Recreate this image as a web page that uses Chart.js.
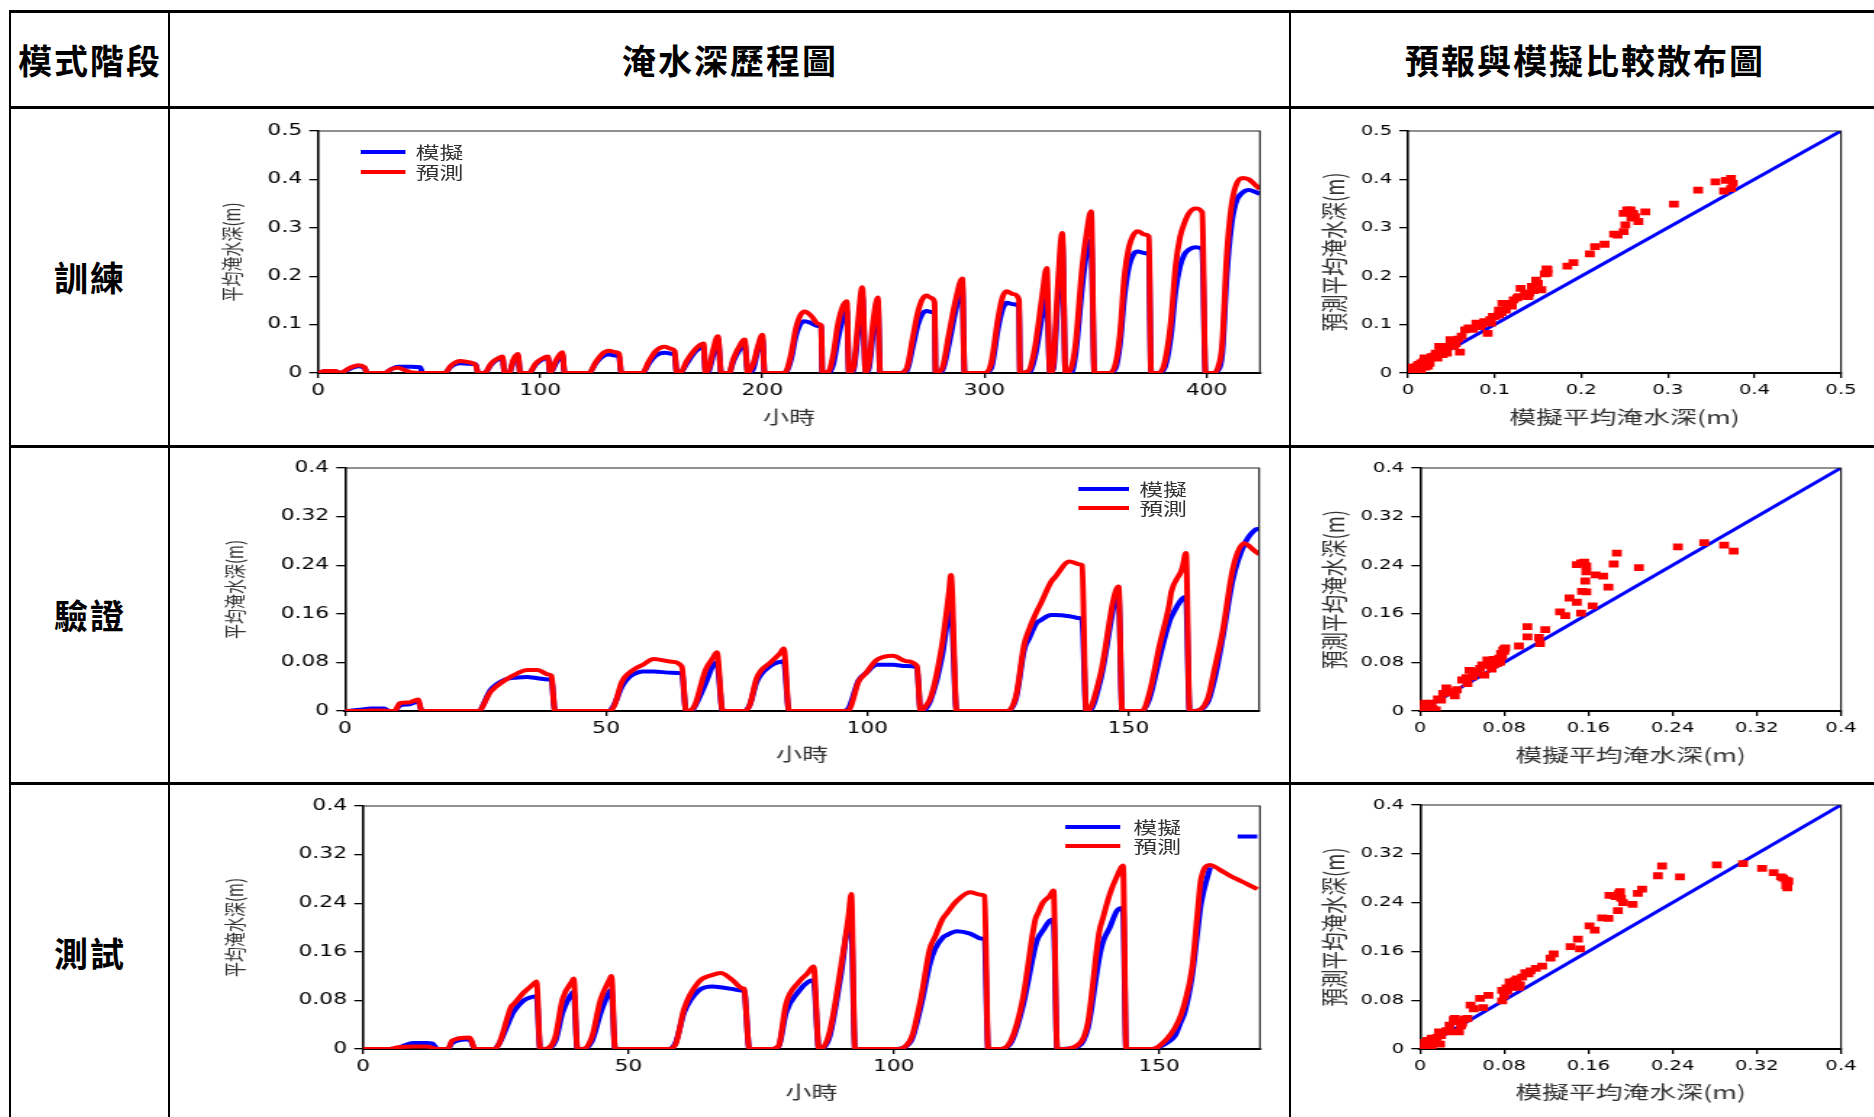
<!DOCTYPE html>
<html><head><meta charset="utf-8">
<script src="https://cdn.jsdelivr.net/npm/chart.js@4.4.1/dist/chart.umd.min.js"></script>
<style>
html,body{margin:0;padding:0;background:#fff;}
body{width:1874px;height:1117px;position:relative;overflow:hidden;font-family:"Noto Sans CJK TC",sans-serif;}
.ln{position:absolute;background:#000;}
.hd{position:absolute;font-weight:700;font-size:34px;letter-spacing:2px;color:#000;transform:translate(-50%,-50%);white-space:nowrap;line-height:1;}
.wrap{position:absolute;transform:scaleX(1.45);transform-origin:0 0;}
.wrap canvas{position:absolute;left:0;top:0;}
.lgl{position:absolute;height:4px;}
.lgt{position:absolute;font-size:16.5px;line-height:20px;height:20px;color:#333;white-space:nowrap;}
</style></head>
<body>
<div class="ln" style="left:9px;top:10px;width:1865px;height:3px"></div>
<div class="ln" style="left:9px;top:105.5px;width:1865px;height:3px"></div>
<div class="ln" style="left:9px;top:444.5px;width:1865px;height:3px"></div>
<div class="ln" style="left:9px;top:782px;width:1865px;height:3px"></div>
<div class="ln" style="left:9px;top:10px;width:2px;height:1107px"></div>
<div class="ln" style="left:168px;top:10px;width:2px;height:1107px"></div>
<div class="ln" style="left:1289px;top:10px;width:2px;height:1107px"></div>

<div class="hd" style="left:90px;top:60px">模式階段</div>
<div class="hd" style="left:730px;top:60px">淹水深歷程圖</div>
<div class="hd" style="left:1585px;top:60px">預報與模擬比較散布圖</div>
<div class="hd" style="left:90px;top:277px">訓練</div>
<div class="hd" style="left:90px;top:615px">驗證</div>
<div class="hd" style="left:90px;top:953px">測試</div>

<script>
// ---------------- data ----------------
const seriesNames = ['模擬', '預測'];

const trainHours = [
 0,3,8,10,14,18,21,22,30,33,
 36,39,42,46,47,57,60,64,68,71,
 72,75,78,81,83,84,86,88,90,91,
 95,98,101,103.5,104.5,107,110,111,122,125,
 128,131,134,135.5,136.5,146,149,152,156,159,
 160.5,161.5,163,166,170,173.5,174.5,176,178,180,
 181.5,185,187,190,192,193.5,196,198,200,201,
 209,211,213,215,217,219,222,225,226.5,227,
 230,232,234,236,238,239,241,243,245,246.5,
 248,250,252,253,262,265,268,270,272,274,
 276,277.5,278,281,284,287,290,291,300,303,
 306,308,310,313,315.5,316,320,323,326,328,
 329.5,331,333,335,336.5,339,341,344,346,348,
 349.5,356,359,361,363,365,367,369,372,374,
 375,378,381,384,386,388,390,392,395,398,
 399.5,403,405,407,409,411,413,416,419,422,
 424];
const trainSim = [
 0,.003,.003,0,.008,.014,.01,0,0,.008,
 .013,.013,.013,.012,0,0,.014,.02,.019,.018,
 0,0,.018,.028,.03,0,0,.025,.035,0,
 0,.018,.028,.031,0,.02,.038,0,0,.02,
 .034,.038,.036,.034,0,0,.02,.036,.042,.04,
 .038,0,0,.02,.045,.055,0,.005,.04,.07,
 0,0,.025,.05,.062,0,.01,.05,.072,0,
 0,.004,.03,.075,.1,.107,.103,.097,.095,0,
 0,.02,.07,.11,.13,0,.005,.08,.16,0,
 .01,.09,.14,0,0,.005,.06,.1,.122,.128,
 .126,.124,0,.005,.06,.13,.18,0,0,.01,
 .09,.13,.145,.142,.137,0,0,.04,.12,.16,
 0,.01,.15,.27,0,0,.04,.18,.25,.275,
 0,0,.01,.06,.16,.22,.245,.251,.248,.244,
 0,0,.01,.08,.17,.22,.245,.255,.26,.256,
 0,0,.005,.04,.2,.3,.35,.372,.378,.374,
 .37];
const trainPred = [
 0,.004,.004,0,.01,.016,.012,0,0,.008,
 .011,.006,.001,0,0,0,.016,.025,.022,.016,
 0,0,.02,.03,.034,0,0,.028,.039,0,
 0,.02,.03,.034,0,.025,.043,0,0,.022,
 .04,.046,.043,.04,0,0,.025,.045,.054,.05,
 .045,0,0,.025,.05,.061,0,.01,.05,.076,
 0,0,.03,.058,.069,0,.02,.055,.079,0,
 0,.006,.04,.09,.118,.127,.118,.102,.098,0,
 .004,.04,.1,.135,.148,0,.01,.1,.177,0,
 .02,.11,.156,0,0,.01,.08,.125,.152,.16,
 .155,.146,0,.01,.08,.15,.195,0,0,.02,
 .11,.155,.169,.163,.152,0,.005,.06,.16,.217,
 0,.02,.18,.289,0,.01,.06,.22,.29,.334,
 0,0,.02,.08,.2,.26,.285,.293,.286,.282,
 0,0,.02,.11,.22,.28,.31,.33,.34,.332,
 0,0,.01,.06,.24,.34,.385,.403,.4,.388,
 .38];

const validHours = [0,3,5,7.5,8.5,9.5,10.5,12.3,14,14.7,25.5,27.9,30.7,33,34.8,36.9,38.9,39.5,40.2,50.5,51.5,53,54.3,55.6,57,59.1,62.5,64.5,65.3,66.3,67,69,70.5,71.2,72.3,76.4,77.5,78.8,81.6,83.3,84,85,95.5,96.5,98.3,99.7,101.8,104.9,107.4,109.5,110.2,111,112.2,114.3,115.7,116,117.1,126.8,128.5,130,131,132.4,133.1,135.2,135.9,138.7,140.8,141.1,141.9,142.5,144.6,148.1,148.8,152.6,154,156,157.8,158.2,160.3,161,161.7,162.4,165.2,166.5,168,170,172.1,174.2,175];
const validSim = [0,0.002,0.004,0.004,0,0,0.009,0.011,0.016,0,0,0.035,0.052,0.055,0.056,0.054,0.052,0.052,0,0,0.01,0.04,0.055,0.062,0.065,0.065,0.063,0.062,0,0,0.008,0.045,0.076,0.08,0,0,0.01,0.048,0.075,0.081,0.082,0,0,0.006,0.05,0.062,0.076,0.076,0.074,0.072,0,0.002,0.02,0.09,0.166,0.17,0,0,0.022,0.1,0.12,0.145,0.149,0.158,0.158,0.156,0.1525,0.152,0,0,0.05,0.19,0,0,0.02,0.09,0.147,0.155,0.185,0.188,0,0,0.015,0.054,0.12,0.218,0.273,0.298,0.3];
const validPred = [0,0,0.001,0.001,0,0,0.013,0.014,0.019,0,0,0.032,0.051,0.062,0.0675,0.0675,0.06,0.058,0,0,0.008,0.048,0.062,0.07,0.076,0.0856,0.081,0.073,0,0.002,0.01,0.067,0.088,0.0966,0,0,0.01,0.054,0.081,0.095,0.103,0,0,0.002,0.048,0.062,0.084,0.091,0.082,0.074,0,0.006,0.024,0.109,0.2,0.224,0,0,0.026,0.109,0.135,0.163,0.175,0.213,0.22,0.246,0.241,0.24,0,0.002,0.059,0.205,0,0,0.029,0.11,0.175,0.196,0.235,0.26,0,0,0.021,0.07,0.13,0.235,0.276,0.263,0.258];

const testHours = [0,5,6.7,9.4,12,13.1,14,16,16.8,20.1,21.1,24.6,25.6,28,28.3,30.3,32,32.7,33.4,34.3,36.2,37.6,39.5,39.7,40.4,41.4,43.1,44.8,46.5,46.8,47.5,57.5,58.9,60.5,63.2,65.9,67.4,69.4,71.5,71.8,72.8,77,78.3,79.7,82.1,83.8,84.9,85.9,86.2,87.9,90,91.5,92,92.7,100.3,103.2,105.1,106.8,107.8,109.2,109.9,111.9,114.4,116.4,117.1,117.8,120.2,122.2,124.3,126.7,127.1,128.1,129.4,130.1,130.8,131.5,134.9,136.6,138.7,139.4,140.7,142.1,143.2,143.8,148.7,151.4,153,154.1,154.8,156.2,157.2,157.9,159.6,160.5,162,163.4,164.8,166.5,168.5];
const testSim = [0,0,0.002,0.01,0.01,0.009,0,0,0.01,0.016,0,0,0.008,0.055,0.06,0.08,0.086,0.087,0,0,0.012,0.06,0.093,0.094,0,0,0.012,0.06,0.095,0.097,0,0,0.01,0.06,0.096,0.103,0.1015,0.099,0.096,0.096,0,0,0.004,0.06,0.095,0.11,0.113,0,0,0.02,0.12,0.2,0.2,0,0,0.012,0.07,0.14,0.165,0.183,0.187,0.194,0.19,0.182,0.18,0,0,0.012,0.07,0.17,0.181,0.195,0.211,0.213,0,0,0.005,0.035,0.15,0.176,0.2,0.228,0.232,0,0,0.01,0.022,0.045,0.06,0.12,0.192,0.24,0.299,null,null,null,0.35,0.35,0.35];
const testPred = [0,0,0.003,0.004,0.004,0.002,0,0,0.014,0.019,0,0,0.008,0.071,0.073,0.093,0.106,0.111,0,0,0.019,0.082,0.113,0.116,0,0,0.019,0.082,0.115,0.12,0,0,0.008,0.066,0.11,0.122,0.125,0.115,0.1,0.099,0,0,0.005,0.074,0.11,0.125,0.136,0,0,0.027,0.132,0.22,0.255,0,0,0.016,0.082,0.165,0.185,0.214,0.222,0.244,0.258,0.254,0.252,0,0,0.016,0.082,0.214,0.222,0.241,0.252,0.261,0,0,0.008,0.044,0.192,0.215,0.255,0.285,0.302,0,0,0.016,0.035,0.055,0.075,0.132,0.22,0.28,0.303,0.3,0.292,0.285,0.279,0.272,0.263];

// scatter: simulated (x) vs predicted (y)
const trainScSim = [0.355,0.367,0.373,0.375,0.373,0.365,0.335,0.307,0.274,0.266,0.262,0.257,0.253,0.249,0.251,0.249,0.242,0.238,0.227,0.216,0.21,0.191,0.184,0.161,0.161,0.148,0.154,0.143,0.13,0.135,0.126,0.118,0.109,0.105,0.101,0.096,0.088,0.079,0.092,0.066,0.062,0.06,0.049,0.045,0.036,0.045,0.032,0.027,0.023,0.019,0.015,0.01,0.006,0.002,0,0.012,0.015,0.023,0.034,0.04,0.053,0.07,0.083,0.105,0.113,0.122,0.139,0.15,0.128,0.098,
 0.005,0.008,0.018,0.025,0.03,0.038,0.043,0.05,0.055,0.058,0.02,0.012,0.04,0.075,0.085,0.095,0.108,0.115,0.12,0.14,0.145,0.158,0.16,0.26,0.258];
const trainScPred = [0.395,0.398,0.402,0.392,0.381,0.376,0.378,0.349,0.333,0.313,0.323,0.337,0.337,0.33,0.306,0.292,0.285,0.287,0.266,0.261,0.246,0.228,0.221,0.214,0.206,0.192,0.172,0.179,0.175,0.165,0.155,0.144,0.144,0.13,0.117,0.103,0.106,0.103,0.082,0.089,0.076,0.043,0.069,0.055,0.055,0.041,0.041,0.034,0.027,0.031,0.021,0.014,0.007,0.003,0,0,0.007,0.014,0.031,0.045,0.055,0.093,0.096,0.12,0.13,0.151,0.158,0.185,0.158,0.117,
 0.012,0.004,0.024,0.02,0.035,0.048,0.05,0.062,0.06,0.07,0.012,0.018,0.038,0.09,0.1,0.11,0.125,0.14,0.138,0.165,0.17,0.205,0.215,0.33,0.32];

const validScSim = [0.245,0.27,0.289,0.298,0.187,0.184,0.208,0.179,0.167,0.174,0.158,0.156,0.153,0.149,0.158,0.157,0.154,0.158,0.142,0.149,0.164,0.153,0.133,0.138,0.102,0.119,0.102,0.113,0.114,0.094,0.08,0.077,0.075,0.064,0.07,0.059,0.047,0.054,0.061,0.05,0.04,0.045,0.035,0.025,0.033,0.022,0.017,0.011,0.008,0.004,0.002,0,0.006,0.015,0.068,0.073,0.08,
 0.063,0.066,0.07,0.076,0.078,0.057,0.052,0.044,0.03,0.028,0.02,0.01,0.005,0.012,0.079,0.081];
const validScPred = [0.27,0.277,0.273,0.263,0.26,0.242,0.236,0.204,0.224,0.222,0.229,0.245,0.244,0.241,0.239,0.214,0.197,0.196,0.186,0.179,0.173,0.161,0.163,0.157,0.139,0.134,0.122,0.121,0.111,0.107,0.102,0.095,0.087,0.084,0.076,0.076,0.067,0.065,0.059,0.056,0.051,0.045,0.035,0.038,0.025,0.029,0.02,0.013,0.01,0.013,0.004,0,0.002,0.002,0.069,0.078,0.098,
 0.075,0.08,0.085,0.08,0.09,0.07,0.062,0.055,0.032,0.03,0.018,0.008,0.006,0.004,0.1,0.104];

const testScSim = [0.23,0.226,0.247,0.282,0.307,0.325,0.336,0.343,0.348,0.349,0.349,0.211,0.207,0.202,0.193,0.189,0.184,0.18,0.191,0.188,0.179,0.173,0.161,0.166,0.15,0.143,0.152,0.127,0.124,0.116,0.11,0.103,0.097,0.09,0.094,0.085,0.087,0.078,0.08,0.078,0.065,0.057,0.06,0.048,0.051,0.042,0.032,0.039,0.028,0.037,0.028,0.018,0.016,0.011,0.019,0.007,0.004,0.011,0,0,0.005,
 0.1,0.105,0.092,0.095,0.083,0.082,0.035,0.033,0.04,0.045,0.012,0.015,0.008,0.02,0.025,0.19,0.186,0.348,0.35,0.345];
const testScPred = [0.3,0.284,0.282,0.302,0.304,0.296,0.289,0.282,0.277,0.271,0.264,0.262,0.255,0.237,0.24,0.255,0.252,0.252,0.247,0.227,0.214,0.215,0.202,0.195,0.18,0.168,0.164,0.156,0.149,0.136,0.132,0.123,0.118,0.112,0.101,0.11,0.101,0.096,0.088,0.079,0.088,0.083,0.068,0.072,0.066,0.049,0.048,0.038,0.039,0.028,0.028,0.028,0.019,0.018,0.008,0.014,0.011,0.005,0.003,0,0,
 0.125,0.128,0.115,0.105,0.095,0.1,0.045,0.05,0.042,0.05,0.01,0.012,0.005,0.022,0.03,0.258,0.25,0.268,0.275,0.28];

// ticks / axis ranges
const trainXTicks = [0,100,200,300,400];
const trainXMax = 424;
const validXTicks = [0,50,100,150];
const validXMax = 175;
const testXTicks = [0,50,100,150];
const testXMax = 169;
const trainYTicks = [0,0.1,0.2,0.3,0.4,0.5];
const smallYTicks = [0,0.08,0.16,0.24,0.32,0.4];
const trainDiag = [0,0.5];
const smallDiag = [0,0.4];

const tsYTitle = '平均淹水深(m)';
const tsXTitle = '小時';
const scYTitle = '預測平均淹水深(m)';
const scXTitle = '模擬平均淹水深(m)';

// ---------------- drawing ----------------
const framePlugin = {
  id: 'frame',
  afterDatasetsDraw(chart) {
    const {ctx, chartArea: a} = chart;
    ctx.save();
    ctx.strokeStyle = '#222';
    ctx.lineWidth = 1.2;
    ctx.beginPath();
    ctx.moveTo(a.left, a.top);
    ctx.lineTo(a.right, a.top);
    ctx.lineTo(a.right, a.bottom);
    ctx.stroke();
    ctx.restore();
  }
};

function makeWrap(left, top, w, h) {
  const d = document.createElement('div');
  d.className = 'wrap';
  d.style.left = left + 'px'; d.style.top = top + 'px';
  d.style.width = w + 'px'; d.style.height = h + 'px';
  const c = document.createElement('canvas');
  c.width = w; c.height = h;
  c.style.width = w + 'px'; c.style.height = h + 'px';
  d.appendChild(c);
  document.body.appendChild(d);
  return {d, c};
}

function axis(kind, min, max, ticksArr, title, titleSize, g, tickSize) {
  const isX = kind === 'x';
  return {
    type: 'linear', min: min, max: max,
    afterBuildTicks: s => { s.ticks = ticksArr.map(v => ({value: v})); },
    afterFit: s => { if (isX) s.height = g.hx; else s.width = g.wy; },
    ticks: {color: '#000', font: {family: 'DejaVu Sans', size: tickSize}, padding: isX ? 4 : 5,
            maxRotation: 0, autoSkip: false, callback: v => String(v)},
    grid: {display: true, drawOnChartArea: false, drawTicks: true, tickLength: isX ? 5 : 6, color: '#000', lineWidth: 1.3},
    border: {display: true, color: '#000', width: isX ? 2 : 1.6},
    title: {display: true, text: title, color: '#333', font: {family: 'Noto Sans CJK TC', size: titleSize},
            padding: isX ? {top: 0, bottom: g.xtp} : {top: g.ytp, bottom: 0}}
  };
}

function tsChart(g, hours, sim, pred, xMax, xTicks, yMax, yTicks, legend) {
  const {d, c} = makeWrap(g.left, g.top, g.w, g.h);
  new Chart(c, {
    type: 'line',
    data: {datasets: [
      {label: seriesNames[0], data: hours.map((h, i) => ({x: h, y: sim[i]})), borderColor: '#0000FF',
       borderWidth: 4, pointRadius: 0, order: 1, cubicInterpolationMode: 'monotone', borderJoinStyle: 'bevel', spanGaps: false},
      {label: seriesNames[1], data: hours.map((h, i) => ({x: h, y: pred[i]})), borderColor: '#FF0000',
       borderWidth: 4, pointRadius: 0, order: 0, cubicInterpolationMode: 'monotone', borderJoinStyle: 'bevel'}
    ]},
    options: {
      responsive: false, animation: false, devicePixelRatio: 1,
      layout: {padding: {left: 0, top: g.pt, right: g.pr, bottom: 0}},
      plugins: {legend: {display: false}, tooltip: {enabled: false}},
      scales: {
        x: axis('x', 0, xMax, xTicks, tsXTitle, 18, g, 15),
        y: axis('y', 0, yMax, yTicks, tsYTitle, 15, g, 15)
      }
    },
    plugins: [framePlugin]
  });
  // legend (HTML text)
  const cols = ['#0000FF', '#FF0000'];
  [0, 1].forEach(i => {
    const y = legend.y[i];
    const l = document.createElement('div');
    l.className = 'lgl';
    l.style.left = legend.x + 'px'; l.style.width = legend.len + 'px';
    l.style.top = (y - 2) + 'px'; l.style.background = cols[i];
    d.appendChild(l);
    const t = document.createElement('div');
    t.className = 'lgt';
    t.style.left = legend.tx + 'px'; t.style.top = (y - 10) + 'px';
    t.textContent = seriesNames[i];
    d.appendChild(t);
  });
}

function scChart(g, xs, ys, diag, ticksArr) {
  const {c} = makeWrap(g.left, g.top, g.w, g.h);
  const max = diag[1];
  new Chart(c, {
    type: 'scatter',
    data: {datasets: [
      {label: seriesNames[1], data: xs.map((x, i) => ({x: x, y: ys[i]})), backgroundColor: '#FF0000',
       borderWidth: 0, pointStyle: 'rect', pointRadius: 4.8, order: 0},
      {label: '1:1', data: diag.map(v => ({x: v, y: v})), showLine: true, borderColor: '#0000FF',
       borderWidth: 3, pointRadius: 0, order: 1}
    ]},
    options: {
      responsive: false, animation: false, devicePixelRatio: 1,
      layout: {padding: {left: 0, top: g.pt, right: g.pr, bottom: 0}},
      plugins: {legend: {display: false}, tooltip: {enabled: false}},
      scales: {
        x: axis('x', 0, max, ticksArr, scXTitle, 18.5, g, 13.5),
        y: axis('y', 0, max, ticksArr, scYTitle, 18.5, g, 13.5)
      }
    },
    plugins: [framePlugin]
  });
}

tsChart({left: 172, top: 112, w: 766, h: 330, wy: 100.7, pr: 15.7, pt: 19, hx: 69, ytp: 32.4, xtp: 14.2},
        trainHours, trainSim, trainPred, trainXMax, trainXTicks, 0.5, trainYTicks,
        {x: 130, len: 31, tx: 168, y: [40, 60]});
tsChart({left: 172, top: 450, w: 766, h: 330, wy: 119.3, pr: 16.3, pt: 18, hx: 69, ytp: 34.4, xtp: 15.2},
        validHours, validSim, validPred, validXMax, validXTicks, 0.4, smallYTicks,
        {x: 625, len: 35, tx: 667, y: [39, 58]});
tsChart({left: 172, top: 788, w: 766, h: 329, wy: 131.7, pr: 15.7, pt: 18, hx: 68, ytp: 34.4, xtp: 14.2},
        testHours, testSim, testPred, testXMax, testXTicks, 0.4, smallYTicks,
        {x: 616, len: 38, tx: 663, y: [39, 58]});

scChart({left: 1292, top: 112, w: 400, h: 330, wy: 80, pr: 21.4, pt: 19, hx: 69, ytp: 17.9, xtp: 13.9},
        trainScSim, trainScPred, trainDiag, trainYTicks);
scChart({left: 1292, top: 450, w: 400, h: 330, wy: 88.3, pr: 21.4, pt: 18, hx: 69, ytp: 17.9, xtp: 13.9},
        validScSim, validScPred, smallDiag, smallYTicks);
scChart({left: 1292, top: 788, w: 400, h: 329, wy: 88.3, pr: 21.4, pt: 17, hx: 68, ytp: 17.9, xtp: 13.9},
        testScSim, testScPred, smallDiag, smallYTicks);
</script>
</body></html>
